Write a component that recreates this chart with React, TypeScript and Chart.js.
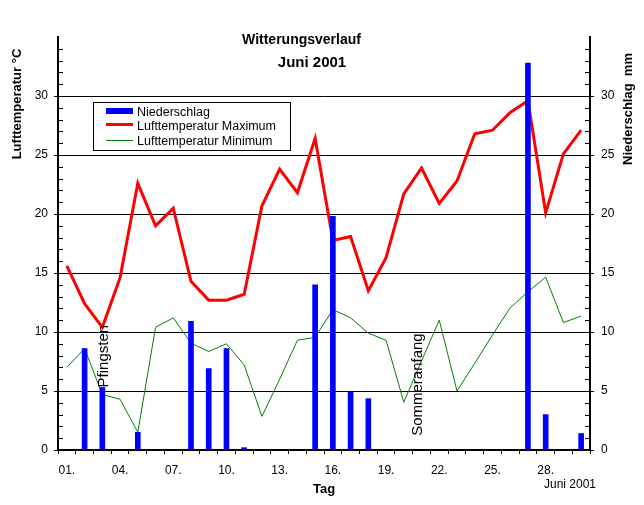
import React, { useEffect, useRef } from 'react';
import { Chart, registerables } from 'chart.js';

Chart.register(...registerables);

// ---------- data ----------
const dayLabels = [
  '01.', '02.', '03.', '04.', '05.', '06.', '07.', '08.', '09.', '10.',
  '11.', '12.', '13.', '14.', '15.', '16.', '17.', '18.', '19.', '20.',
  '21.', '22.', '23.', '24.', '25.', '26.', '27.', '28.', '29.', '30.',
];

// Niederschlag (mm)
const precipitation: (number | null)[] = [
  null, 8.6, 5.3, null, 1.5, null, null, 10.9, 6.9, 8.6,
  0.2, null, null, null, 14.0, 19.8, 4.9, 4.35, null, null,
  null, null, null, null, null, null, 32.8, 3.0, null, 1.4,
];

// Lufttemperatur Maximum (°C)
const tempMax = [
  15.6, 12.4, 10.4, 14.6, 22.6, 19.0, 20.5, 14.3, 12.7, 12.7,
  13.2, 20.7, 23.8, 21.8, 26.4, 17.75, 18.1, 13.5, 16.3, 21.7,
  23.9, 20.9, 22.8, 26.8, 27.1, 28.6, 29.6, 20.1, 25.1, 27.1,
];

// Lufttemperatur Minimum (°C)
const tempMin = [
  7.0, 8.6, 4.7, 4.3, 1.5, 10.4, 11.2, 9.05, 8.35, 9.0,
  7.2, 2.85, 6.0, 9.3, 9.55, 11.9, 11.2, 9.9, 9.3, 4.05,
  7.55, 11.0, 5.0, 7.35, 9.75, 12.05, 13.4, 14.65, 10.8, 11.35,
];

const yMajorTicks = [0, 5, 10, 15, 20, 25, 30];
const yMin = 0;
const yMax = 35;
const labelEvery = 3;

const seriesNames = ['Niederschlag', 'Lufttemperatur Maximum', 'Lufttemperatur Minimum'];

const titleLines = ['Witterungsverlauf', 'Juni 2001'];
const leftAxisTitle = 'Lufttemperatur °C';
const rightAxisTitle = 'Niederschlag  mm';
const xAxisTitle = 'Tag';
const xAxisNote = 'Juni 2001';

const annotationDays = [3, 21];
const annotationTexts = ['Pfingsten', 'Sommeranfang'];
const annotationBottomValues = [5.3, 1.2];

// ---------- styles ----------
const FONT = '"Liberation Sans", Arial, sans-serif';
const BLUE = '#0000ff';
const RED = '#ff0000';
const GREEN = '#008000';

const annotationDx = [6, 0];

const decorPlugin = {
  id: 'decor',
  afterDraw(chart: any) {
    const ctx = chart.ctx as CanvasRenderingContext2D;
    const area = chart.chartArea;
    const yL = chart.scales.y;
    const xS = chart.scales.x;
    ctx.save();

    // minor ticks
    ctx.strokeStyle = '#000';
    ctx.lineWidth = 1;
    for (let v = yMin + 1; v < yMax; v++) {
      if (v % 5 === 0) continue;
      const py = Math.round(yL.getPixelForValue(v)) + 0.5;
      ctx.beginPath();
      ctx.moveTo(area.left, py);
      ctx.lineTo(area.left + 5, py);
      ctx.moveTo(area.right - 5, py);
      ctx.lineTo(area.right, py);
      ctx.stroke();
    }

    ctx.fillStyle = '#000';
    // titles
    ctx.textAlign = 'center';
    ctx.textBaseline = 'alphabetic';
    ctx.font = `bold 14px ${FONT}`;
    ctx.fillText(titleLines[0], 301.5, 43.5);
    ctx.font = `bold 15px ${FONT}`;
    ctx.fillText(titleLines[1], 312, 66.5);

    // x axis title + note
    ctx.font = `bold 13px ${FONT}`;
    ctx.fillText(xAxisTitle, (area.left + area.right) / 2, 493);
    ctx.font = `12px ${FONT}`;
    ctx.fillText(xAxisNote, 570, 488);

    // y axis titles (rotated)
    ctx.font = `bold 13px ${FONT}`;
    ctx.save();
    ctx.translate(21, 104);
    ctx.rotate(-Math.PI / 2);
    ctx.fillText(leftAxisTitle, 0, 0);
    ctx.restore();
    ctx.save();
    ctx.translate(631.5, 109);
    ctx.rotate(-Math.PI / 2);
    ctx.fillText(rightAxisTitle, 0, 0);
    ctx.restore();

    // annotations
    ctx.font = `15px ${FONT}`;
    ctx.textAlign = 'left';
    annotationDays.forEach((d, i) => {
      const px = xS.getPixelForValue(d - 1) + annotationDx[i];
      const py = yL.getPixelForValue(annotationBottomValues[i]);
      ctx.save();
      ctx.translate(px, py);
      ctx.rotate(-Math.PI / 2);
      ctx.fillText(annotationTexts[i], 0, 0);
      ctx.restore();
    });

    // legend
    const lx = 93.5, ly = 102.5, lw = 197, lh = 48;
    ctx.fillStyle = '#fff';
    ctx.fillRect(lx, ly, lw, lh);
    ctx.strokeStyle = '#000';
    ctx.lineWidth = 1;
    ctx.strokeRect(lx, ly, lw, lh);
    const ds = chart.data.datasets;
    // bar sample
    ctx.fillStyle = ds[0].backgroundColor;
    ctx.fillRect(106, 108, 27, 6);
    // line samples
    ctx.strokeStyle = ds[1].borderColor;
    ctx.lineWidth = 3;
    ctx.beginPath();
    ctx.moveTo(106, 124.5);
    ctx.lineTo(133, 124.5);
    ctx.stroke();
    ctx.strokeStyle = ds[2].borderColor;
    ctx.lineWidth = 1;
    ctx.beginPath();
    ctx.moveTo(106, 140.5);
    ctx.lineTo(133, 140.5);
    ctx.stroke();
    ctx.fillStyle = '#000';
    ctx.font = `12.5px ${FONT}`;
    ctx.textAlign = 'left';
    ctx.fillText(ds[0].label, 137, 115.5);
    ctx.fillText(ds[1].label, 137, 130);
    ctx.fillText(ds[2].label, 137, 145);

    ctx.restore();
  },
};

export default function App() {
  const canvasRef = useRef<HTMLCanvasElement | null>(null);

  useEffect(() => {
    const canvas = canvasRef.current;
    if (!canvas) return;
    const setTicks = (s: any) => {
      s.ticks = yMajorTicks.map((v) => ({ value: v }));
    };
    const chart = new Chart(canvas, {
      type: 'bar',
      data: {
        labels: dayLabels,
        datasets: [
          {
            type: 'bar',
            label: seriesNames[0],
            data: precipitation,
            backgroundColor: BLUE,
            borderWidth: 0,
            barThickness: 5,
            yAxisID: 'y2',
            order: 0,
          },
          {
            type: 'line',
            label: seriesNames[1],
            data: tempMax,
            borderColor: RED,
            backgroundColor: RED,
            borderWidth: 3,
            pointRadius: 0,
            tension: 0,
            yAxisID: 'y',
            order: 1,
          },
          {
            type: 'line',
            label: seriesNames[2],
            data: tempMin,
            borderColor: GREEN,
            backgroundColor: GREEN,
            borderWidth: 1,
            pointRadius: 0,
            tension: 0,
            yAxisID: 'y',
            order: 2,
          },
        ] as any,
      },
      options: {
        animation: false,
        responsive: false,
        devicePixelRatio: 1,
        layout: { padding: { top: 37, left: 0, right: 0, bottom: 0 } },
        plugins: {
          legend: { display: false },
          title: { display: false },
          tooltip: { enabled: false },
        },
        scales: {
          x: {
            type: 'category',
            offset: true,
            grid: {
              offset: true,
              drawOnChartArea: false,
              drawTicks: true,
              tickLength: 4,
              color: '#000',
              lineWidth: 1,
            },
            border: { color: '#000', width: 2 },
            ticks: {
              autoSkip: false,
              maxRotation: 0,
              minRotation: 0,
              padding: 9,
              color: '#000',
              font: { family: FONT, size: 12 },
              callback: (_v: any, i: number) => (i % labelEvery === 0 ? dayLabels[i] : ''),
            },
            afterFit: (s: any) => {
              s.height = 55;
            },
          },
          y: {
            type: 'linear',
            position: 'left',
            min: yMin,
            max: yMax,
            afterBuildTicks: setTicks,
            grid: {
              color: (c: any) => (c.tick && c.tick.value === 0 ? 'rgba(0,0,0,0)' : '#000'),
              tickColor: '#000',
              lineWidth: 1,
              drawTicks: true,
              tickLength: 4,
            },
            border: { color: '#000', width: 2 },
            ticks: {
              padding: 6,
              color: '#000',
              font: { family: FONT, size: 12 },
            },
            afterFit: (s: any) => {
              s.width = 58;
            },
          },
          y2: {
            type: 'linear',
            position: 'right',
            min: yMin,
            max: yMax,
            afterBuildTicks: setTicks,
            grid: {
              drawOnChartArea: false,
              drawTicks: true,
              tickLength: 4,
              color: '#000',
              lineWidth: 1,
            },
            border: { color: '#000', width: 2 },
            ticks: {
              padding: 7,
              color: '#000',
              font: { family: FONT, size: 12 },
            },
            afterFit: (s: any) => {
              s.width = 54;
            },
          },
        },
      },
      plugins: [decorPlugin],
    } as any);
    return () => chart.destroy();
  }, []);

  return (
    <div style={{ position: 'fixed', left: 0, top: 0, width: 644, height: 505, background: '#fff' }}>
      <canvas ref={canvasRef} width={644} height={505} style={{ display: 'block' }} />
    </div>
  );
}
